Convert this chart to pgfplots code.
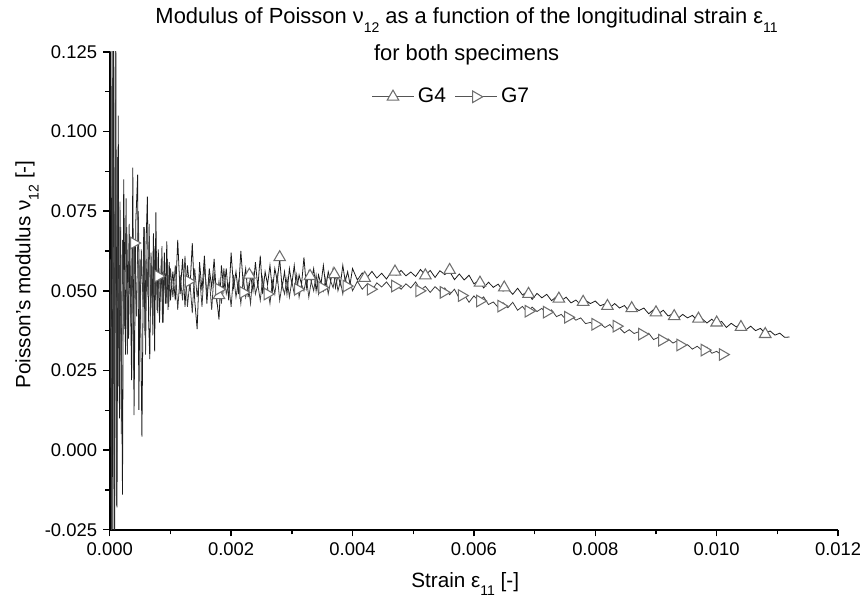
\documentclass[border=0pt]{standalone}
\usepackage{fontspec}
\setmainfont{Liberation Sans}
\usepackage{pgfplots}
\pgfplotsset{compat=1.18}
\usetikzlibrary{calc}
\definecolor{gfour}{HTML}{1A1A1A}
\definecolor{gseven}{HTML}{3C3C3C}
\definecolor{markgray}{HTML}{6E6E6E}
\definecolor{leggray}{HTML}{555555}
\newcommand{\sub}[1]{\raisebox{-0.75ex}{\fontsize{8}{9}\selectfont #1}}

\begin{document}
\begin{tikzpicture}
\begin{axis}[
  name=ax,
  scale only axis, width=14.6cm, height=9.58cm,
  xmin=0, xmax=0.012, ymin=-0.025, ymax=0.125,
  axis x line*=bottom, axis y line*=left,
  axis line style={line width=0.9pt, black},
  xtick={0,0.002,0.004,0.006,0.008,0.010,0.012},
  ytick={-0.025,0,0.025,0.05,0.075,0.1,0.125},
  minor x tick num=1, minor y tick num=1,
  tick align=outside,
  major tick length=0.13cm, minor tick length=0.09cm,
  every tick/.style={line width=0.8pt, black},
  scaled ticks=false,
  xticklabel style={/pgf/number format/.cd, fixed, fixed zerofill, precision=3, assume math mode=true},
  yticklabel style={/pgf/number format/.cd, fixed, fixed zerofill, precision=3, assume math mode=true},
  ticklabel style={font=\fontsize{10.5}{12}\selectfont},
  clip mode=individual,
  legend style={draw=none, fill=none, at={(rel axis cs:0.47,0.906)}, anchor=center,
    font=\fontsize{12}{14}\selectfont, legend columns=2,
    /tikz/every even column/.append style={column sep=0.1cm}},
  legend image code/.code={\draw[mark repeat=2,mark phase=2,#1,sharp plot,draw=leggray,line width=0.6pt]
    plot coordinates {(0cm,0cm) (0.42cm,0cm) (0.84cm,0cm)};},
]

% G4 noisy record
\addplot[gfour, line width=0.45pt, forget plot] table {
x y
0.00000 0.050
0.00002 0.135
0.00004 -0.035
0.00006 0.140
0.00008 -0.030
0.00010 0.130
0.00012 -0.018
0.00014 0.105
0.00016 0.010
0.00018 0.070
0.00021 -0.014
0.00023 0.085
0.00026 0.030
0.00028 0.070
0.00031 0.035
0.00033 0.066
0.00036 0.022
0.00038 0.0887
0.00040 0.011
0.00043 0.072
0.00046 0.0865
0.00048 0.0126
0.00050 0.060
0.00053 0.0042
0.00056 0.070
0.00058 0.036
0.00060 0.066
0.00062 0.0796
0.00064 0.041
0.00066 0.0286
0.00068 0.062
0.00070 0.045
0.00072 0.068
0.00074 0.031
0.00076 0.0746
0.00078 0.044
0.00080 0.063
0.00082 0.040
0.00085 0.060
0.00087 0.040
0.00090 0.062
0.00092 0.046
0.00094 0.0655
0.00096 0.044
0.00098 0.059
0.00100 0.047
0.00104 0.056
0.00108 0.047
0.00112 0.066
0.00116 0.049
0.00120 0.060
0.00124 0.045
0.00128 0.058
0.00132 0.050
0.00136 0.065
0.00140 0.047
0.00144 0.038
0.00148 0.059
0.00152 0.050
0.00156 0.061
0.00160 0.046
0.00164 0.057
0.00168 0.051
0.00172 0.060
0.00176 0.048
0.00180 0.041
0.00184 0.058
0.00188 0.050
0.00192 0.057
0.00196 0.047
0.00200 0.062
0.00204 0.051
0.00208 0.056
0.00212 0.049
0.00216 0.0625
0.00220 0.052
0.00224 0.057
0.00228 0.048
0.00232 0.055
0.00236 0.050
0.00240 0.059
0.00244 0.051
0.00248 0.061
0.00252 0.049
0.00256 0.056
0.00260 0.052
0.00264 0.058
0.00268 0.050
0.00272 0.057
0.00276 0.053
0.00280 0.060
0.00284 0.051
0.00288 0.056
0.00292 0.049
0.00296 0.057
0.00300 0.052
0.00304 0.058
0.00308 0.050
0.00312 0.055
0.00316 0.052
0.00320 0.0605
0.00324 0.051
0.00328 0.056
0.00332 0.053
0.00336 0.057
0.00340 0.050
0.00344 0.055
0.00348 0.052
0.00352 0.058
0.00356 0.051
0.00360 0.056
0.00364 0.053
0.00368 0.057
0.00372 0.051
0.00376 0.055
0.00380 0.052
0.00384 0.058
0.00388 0.053
0.00392 0.056
0.00396 0.052
0.00400 0.057
0.00408 0.0534
0.00416 0.0556
0.00424 0.0542
0.00432 0.0561
0.00440 0.0540
0.00448 0.0555
0.00456 0.0537
0.00464 0.0560
0.00472 0.0549
0.00480 0.0564
0.00488 0.0547
0.00496 0.0559
0.00504 0.0545
0.00512 0.0567
0.00520 0.0549
0.00528 0.0564
0.00536 0.0542
0.00544 0.0563
0.00552 0.0551
0.00560 0.0561
0.00568 0.0535
0.00576 0.0553
0.00584 0.0534
0.00592 0.0549
0.00600 0.0522
0.00608 0.0532
0.00616 0.0509
0.00624 0.0527
0.00632 0.0511
0.00640 0.0521
0.00648 0.0499
0.00656 0.0506
0.00664 0.0489
0.00672 0.0508
0.00680 0.0487
0.00688 0.0498
0.00696 0.0473
0.00704 0.0492
0.00712 0.0478
0.00720 0.0489
0.00728 0.0469
0.00736 0.0482
0.00744 0.0469
0.00752 0.0480
0.00760 0.0462
0.00768 0.0471
0.00776 0.0456
0.00784 0.0470
0.00792 0.0460
0.00800 0.0468
0.00808 0.0453
0.00816 0.0459
0.00824 0.0447
0.00832 0.0460
0.00840 0.0446
0.00848 0.0454
0.00856 0.0435
0.00864 0.0448
0.00872 0.0438
0.00880 0.0446
0.00888 0.0428
0.00896 0.0441
0.00904 0.0428
0.00912 0.0439
0.00920 0.0421
0.00928 0.0428
0.00936 0.0413
0.00944 0.0426
0.00952 0.0415
0.00960 0.0423
0.00968 0.0407
0.00976 0.0412
0.00984 0.0399
0.00992 0.0411
0.01000 0.0396
0.01008 0.0404
0.01016 0.0385
0.01024 0.0398
0.01032 0.0387
0.01040 0.0395
0.01048 0.0377
0.01056 0.0389
0.01064 0.0375
0.01072 0.0382
0.01080 0.0367
0.01088 0.0374
0.01096 0.0361
0.01104 0.0367
0.01112 0.0354
0.01120 0.0355
};

% G7 noisy record
\addplot[gseven, line width=0.45pt, forget plot] table {
x y
0.00001 0.060
0.00003 -0.030
0.00005 0.135
0.00007 -0.025
0.00009 0.128
0.00011 -0.0174
0.00013 0.092
0.00015 0.020
0.00017 0.078
0.00019 0.005
0.00021 0.066
0.00024 0.038
0.00027 0.079
0.00029 0.030
0.00032 0.071
0.00035 0.040
0.00037 0.067
0.00039 0.025
0.00041 0.065
0.00044 0.042
0.00047 0.075
0.00050 0.038
0.00052 0.063
0.00055 0.045
0.00057 0.070
0.00059 0.030
0.00061 0.060
0.00063 0.048
0.00065 0.071
0.00067 0.042
0.00069 0.058
0.00071 0.036
0.00073 0.064
0.00075 0.047
0.00077 0.062
0.00079 0.043
0.00081 0.057
0.00084 0.048
0.00086 0.064
0.00088 0.040
0.00090 0.056
0.00093 0.046
0.00095 0.060
0.00097 0.045
0.00100 0.057
0.00104 0.048
0.00108 0.058
0.00112 0.044
0.00116 0.055
0.00120 0.047
0.00124 0.061
0.00128 0.045
0.00132 0.053
0.00136 0.043
0.00140 0.057
0.00144 0.048
0.00148 0.055
0.00152 0.045
0.00156 0.058
0.00160 0.049
0.00164 0.054
0.00168 0.044
0.00172 0.056
0.00176 0.047
0.00180 0.053
0.00184 0.046
0.00188 0.057
0.00192 0.049
0.00196 0.052
0.00200 0.045
0.00204 0.055
0.00208 0.048
0.00212 0.053
0.00216 0.046
0.00220 0.054
0.00224 0.048
0.00228 0.052
0.00232 0.046
0.00236 0.056
0.00240 0.049
0.00244 0.052
0.00248 0.047
0.00252 0.054
0.00256 0.048
0.00260 0.051
0.00264 0.046
0.00268 0.053
0.00272 0.049
0.00276 0.055
0.00280 0.047
0.00284 0.052
0.00288 0.049
0.00292 0.054
0.00296 0.048
0.00300 0.053
0.00304 0.049
0.00308 0.055
0.00312 0.048
0.00316 0.052
0.00320 0.050
0.00324 0.054
0.00328 0.048
0.00332 0.053
0.00336 0.050
0.00340 0.055
0.00344 0.049
0.00348 0.053
0.00352 0.050
0.00356 0.054
0.00360 0.049
0.00364 0.053
0.00368 0.051
0.00372 0.055
0.00376 0.050
0.00380 0.053
0.00384 0.049
0.00388 0.054
0.00392 0.051
0.00396 0.053
0.00400 0.050
0.00408 0.0530
0.00416 0.0505
0.00424 0.0521
0.00432 0.0501
0.00440 0.0525
0.00448 0.0512
0.00456 0.0528
0.00464 0.0508
0.00472 0.0519
0.00480 0.0505
0.00488 0.0522
0.00496 0.0509
0.00504 0.0528
0.00512 0.0502
0.00520 0.0514
0.00528 0.0495
0.00536 0.0513
0.00544 0.0499
0.00552 0.0509
0.00560 0.0488
0.00568 0.0505
0.00576 0.0476
0.00584 0.0488
0.00592 0.0464
0.00600 0.0484
0.00608 0.0468
0.00616 0.0481
0.00624 0.0457
0.00632 0.0465
0.00640 0.0448
0.00648 0.0463
0.00656 0.0447
0.00664 0.0464
0.00672 0.0439
0.00680 0.0451
0.00688 0.0432
0.00696 0.0449
0.00704 0.0435
0.00712 0.0445
0.00720 0.0425
0.00728 0.0440
0.00736 0.0419
0.00744 0.0426
0.00752 0.0409
0.00760 0.0421
0.00768 0.0408
0.00776 0.0415
0.00784 0.0397
0.00792 0.0401
0.00800 0.0387
0.00808 0.0397
0.00816 0.0385
0.00824 0.0394
0.00832 0.0376
0.00840 0.0383
0.00848 0.0368
0.00856 0.0378
0.00864 0.0366
0.00872 0.0372
0.00880 0.0356
0.00888 0.0367
0.00896 0.0347
0.00904 0.0354
0.00912 0.0336
0.00920 0.0349
0.00928 0.0336
0.00936 0.0344
0.00944 0.0326
0.00952 0.0331
0.00960 0.0317
0.00968 0.0326
0.00976 0.0313
0.00984 0.0323
0.00992 0.0304
0.01000 0.0310
0.01008 0.0299
};

% G4 symbols
\addplot[only marks, mark=triangle*, mark size=3.8pt,
  mark options={draw=markgray, fill=white, line width=0.6pt}] table {
x y
0.0018 0.0486
0.0023 0.0550
0.0028 0.0605
0.0033 0.0546
0.0037 0.0552
0.0042 0.0540
0.0047 0.0560
0.0052 0.0548
0.0056 0.0565
0.0061 0.0525
0.0065 0.0510
0.0069 0.0490
0.0074 0.0475
0.0078 0.0465
0.0082 0.0452
0.0086 0.0445
0.0090 0.0432
0.0093 0.0420
0.0097 0.0412
0.0100 0.0400
0.0104 0.0386
0.0108 0.0364
};
\addlegendentry{G4}

% G7 symbols
\addplot[only marks, mark=triangle*, mark size=3.8pt,
  mark options={draw=markgray, fill=white, line width=0.6pt, rotate=-90}] table {
x y
0.0004 0.0650
0.0008 0.0546
0.0013 0.0530
0.0018 0.0505
0.0022 0.0495
0.0026 0.0490
0.0031 0.0505
0.0035 0.0510
0.0039 0.0515
0.0043 0.0505
0.0047 0.0515
0.0051 0.0500
0.0055 0.0495
0.0058 0.0485
0.0061 0.0468
0.00645 0.0452
0.0069 0.0436
0.0072 0.0433
0.00755 0.0417
0.0080 0.0395
0.00835 0.0389
0.00877 0.0364
0.0091 0.0345
0.0094 0.0330
0.0098 0.0314
0.0101 0.0300
};
\addlegendentry{G7}
\end{axis}

\node[font=\fontsize{12.5}{14}\selectfont] at ($(ax.north west)!0.49!(ax.north east)+(0,0.64cm)$)
  {Modulus of Poisson ν\sub{12} as a function of the longitudinal strain ε\sub{11}};
\node[font=\fontsize{12.5}{14}\selectfont] at ($(ax.north west)!0.49!(ax.north east)+(0,-0.06cm)$)
  {for both specimens};
\node[rotate=90, font=\fontsize{11.8}{14}\selectfont] at ($(ax.south west)!0.534!(ax.north west)+(-1.66cm,0)$)
  {Poisson's modulus ν\sub{12} [-]};
\node[font=\fontsize{11.8}{14}\selectfont] at ($(ax.south west)!0.488!(ax.south east)+(0,-1.08cm)$)
  {Strain ε\sub{11} [-]};

\path (ax.south west) ++(-2.2cm,-1.48cm) coordinate (bbA);
\path (ax.north east) ++(0.44cm,1.04cm) coordinate (bbB);
\pgfresetboundingbox
\path[use as bounding box] (bbA) rectangle (bbB);
\end{tikzpicture}
\end{document}
